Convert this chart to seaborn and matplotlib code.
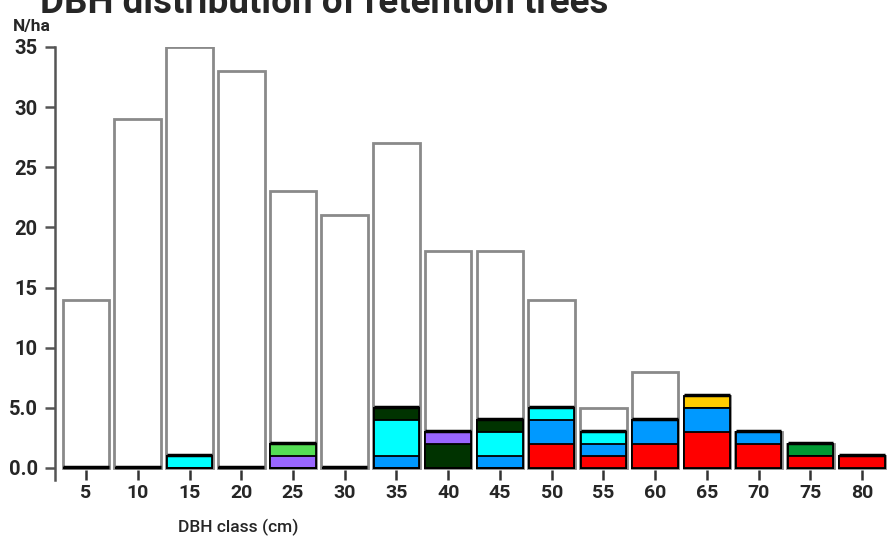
import numpy as np
import pandas as pd
import matplotlib
matplotlib.use("Agg")
import matplotlib.pyplot as plt
import seaborn as sns

classes = ["5", "10", "15", "20", "25", "30", "35", "40", "45", "50", "55", "60", "65", "70", "75", "80"]
totals = [14, 29, 35, 33, 23, 21, 27, 18, 18, 14, 5, 8, 6, 3, 2, 1]

# retained trees by group (stacked, bottom to top)
red = [0, 0, 0, 0, 0, 0, 0, 0, 0, 2, 1, 2, 3, 2, 1, 1]
blue = [0, 0, 0, 0, 0, 0, 1, 0, 1, 2, 1, 2, 2, 1, 0, 0]
cyan = [0, 0, 1, 0, 0, 0, 3, 0, 2, 1, 1, 0, 0, 0, 0, 0]
darkgreen = [0, 0, 0, 0, 0, 0, 1, 2, 1, 0, 0, 0, 0, 0, 0, 0]
purple = [0, 0, 0, 0, 1, 0, 0, 1, 0, 0, 0, 0, 0, 0, 0, 0]
lightgreen = [0, 0, 0, 0, 1, 0, 0, 0, 0, 0, 0, 0, 0, 0, 0, 0]
green = [0, 0, 0, 0, 0, 0, 0, 0, 0, 0, 0, 0, 0, 0, 1, 0]
yellow = [0, 0, 0, 0, 0, 0, 0, 0, 0, 0, 0, 0, 1, 0, 0, 0]

layers = [red, blue, cyan, darkgreen, purple, lightgreen, green, yellow]
layer_colors = ["#ff0000", "#0099ff", "#00ffff", "#003300", "#9966ff", "#55dd55", "#009933", "#ffcc00"]

yticks = [0, 5, 10, 15, 20, 25, 30, 35]
ytick_labels = ["0.0", "5.0", "10", "15", "20", "25", "30", "35"]

sns.set_style("white")
plt.rcParams["font.family"] = ["Roboto", "DejaVu Sans"]

fig = plt.figure(figsize=(8.9, 5.43), dpi=100)
ax = fig.add_axes([55 / 890, 1 - 480 / 543, 835 / 890, (480 - 47) / 543])

df = pd.DataFrame({"cls": classes, "total": totals})
sns.barplot(data=df, x="cls", y="total", color="white", edgecolor="#8a8a8a",
            linewidth=2.0, width=0.9, saturation=1, ax=ax, order=classes)

cum = np.cumsum(np.array(layers), axis=0)
for i in range(len(layers) - 1, -1, -1):
    d = pd.DataFrame({"cls": classes, "v": cum[i]})
    sns.barplot(data=d, x="cls", y="v", color=layer_colors[i], edgecolor="black",
                linewidth=1.3, width=0.88, saturation=1, ax=ax, order=classes)

tops = cum[-1]
ax.hlines(tops + 0.08, np.arange(len(classes)) - 0.44, np.arange(len(classes)) + 0.44,
          color="black", linewidth=2.5)

ax.set_xlim(-0.6, 15.54)
ax.set_ylim(-1, 35)
ax.set_yticks(yticks)
ax.set_yticklabels(ytick_labels)
ax.set_xlabel("")
ax.set_ylabel("")
for s in ["top", "right", "bottom"]:
    ax.spines[s].set_visible(False)
ax.spines["left"].set_color("#555555")
ax.spines["left"].set_linewidth(1.8)
ax.tick_params(axis="y", direction="out", length=7, width=1.8, color="#555555",
               labelsize=14.5, pad=5.5, left=True)
ax.tick_params(axis="x", direction="in", length=7.5, width=1.8, color="#333333",
               labelsize=14, pad=3, bottom=True)
for lab in ax.get_xticklabels() + ax.get_yticklabels():
    lab.set_fontweight("bold")

fig.text(40 / 890, 1 - 13 / 543, "DBH distribution of retention trees", fontsize=26.5,
         fontweight="bold", ha="left", va="baseline")
fig.text(13 / 890, 1 - 31 / 543, "N/ha", fontsize=12.5, fontweight="bold", ha="left", va="baseline")
fig.text(178 / 890, 1 - 532 / 543, "DBH class (cm)", fontsize=12.5, fontweight="medium",
         ha="left", va="baseline")

fig.savefig("out.png", dpi=100)
